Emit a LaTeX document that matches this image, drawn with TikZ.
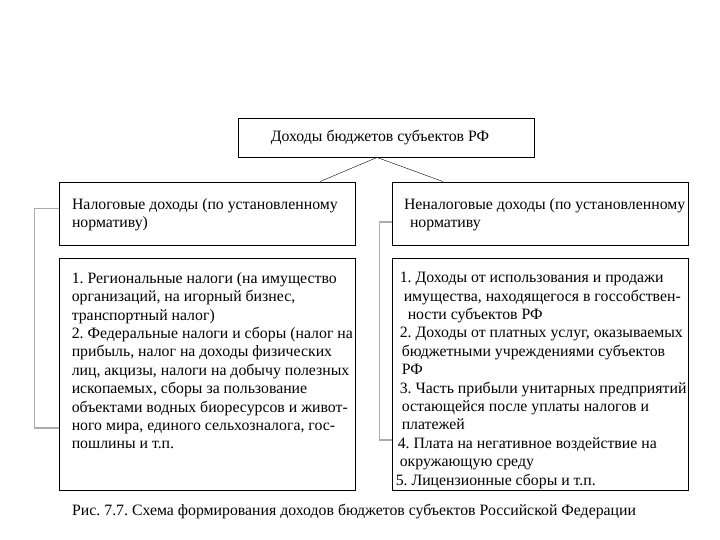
\documentclass[tikz,border=0pt]{standalone}
\usepackage{fontspec}
\setmainfont{Liberation Serif}
\usetikzlibrary{positioning}
\frenchspacing

\begin{document}
\begin{tikzpicture}[x=1pt, y=-1pt,
	box/.style={draw, line width=0.9pt, inner ysep=0pt, minimum width=296pt},
	head/.style={box, inner xsep=13pt, text width=270pt, align=flush left, minimum height=63pt},
	txt/.style={align=flush left, inner sep=0pt, anchor=north west},
	brace/.style={draw=gray!65, line width=1.3pt},
	every node/.style={font=\fontsize{15.8}{18.4}\selectfont}]
	\useasboundingbox (0,0) rectangle (720,540);
	\node (top) [box, minimum height=39pt] at (386,137.5) {\hspace{-12pt}Доходы бюджетов субъектов РФ};
	\node (taxhead) [head] at (207,213.5) {\\[-4.5pt]Налоговые доходы (по установленному\\нормативу)};
	\node (nontaxhead) [head, inner xsep=12pt, text width=272pt] at (540,213.5) {\\[-4.5pt]\mbox{Неналоговые доходы (по установленному}\\\hspace{6pt}нормативу};
	\node (taxbody) [box, minimum height=232pt] at (207,374) {};
	\node (nontaxbody) [box, minimum height=232pt] at (540,374) {};
	\node (taxtxt) [txt, below right=14.5pt and 13pt of taxbody.north west] {%
		1. Региональные налоги (на имущество\\
		организаций, на игорный бизнес,\\
		транспортный налог)\\
		2. Федеральные налоги и сборы (налог на\\
		прибыль, налог на доходы физических\\
		лиц, акцизы, налоги на добычу полезных\\
		ископаемых, сборы за пользование\\
		объектами водных биоресурсов и живот-\\
		ного мира, единого сельхозналога, гос-\\
		пошлины и т.п.};
	\node (nontaxtxt) [txt, below right=14.5pt and 8pt of nontaxbody.north west] {%
		1. Доходы от использования и продажи\\
		\hspace{4pt}имущества, находящегося в госсобствен-\\
		\hspace{8pt}ности субъектов РФ\\
		2. Доходы от платных услуг, оказываемых\\
		\hspace{2pt}бюджетными учреждениями субъектов\\
		\hspace{2pt}РФ\\
		3. Часть прибыли унитарных предприятий\\
		\hspace{2pt}остающейся после уплаты налогов и\\
		\hspace{2pt}платежей\\
		\hspace{-2pt}4. Плата на негативное воздействие на\\
		окружающую среду\\
		\hspace{-4pt}5. Лицензионные сборы и т.п.};
	\node (caption) [anchor=west, inner sep=0pt] at (72,512) {Рис. 7.7. Схема формирования доходов бюджетов субъектов Российской Федерации};
	\path
		([xshift=-9pt]top.south) edge ([xshift=113pt]taxhead.north)
		([xshift=-9pt]top.south) edge ([xshift=-97pt]nontaxhead.north)
	;
	\draw[brace] ([yshift=5pt]taxhead.west) -- ++(-24pt,0) |- ([yshift=-54pt]taxbody.west);
	\draw[brace] ([yshift=-8.5pt]nontaxhead.west) -- ++(-12pt,0) |- ([yshift=-66pt]nontaxbody.west);
\end{tikzpicture}
\end{document}
